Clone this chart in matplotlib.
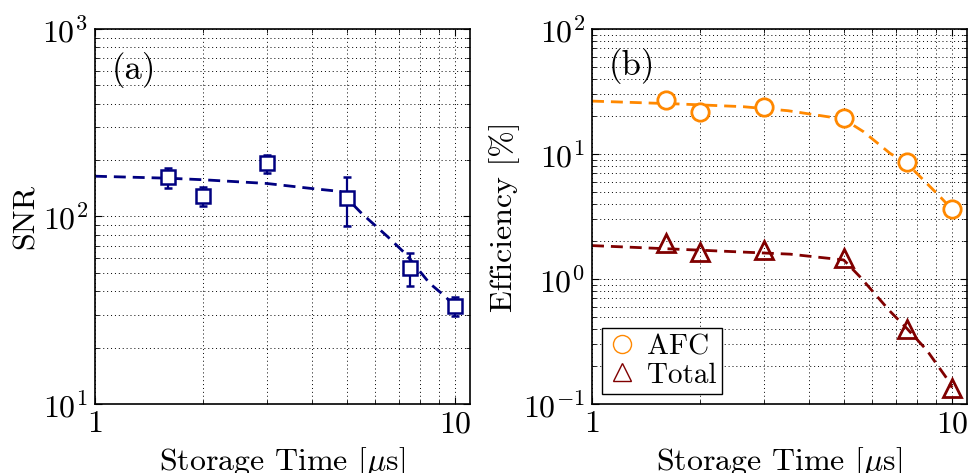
import matplotlib
matplotlib.use('Agg')
import matplotlib.pyplot as plt
from matplotlib.lines import Line2D

plt.rcParams['font.family'] = ['cmr10', 'DejaVu Serif']
plt.rcParams['mathtext.fontset'] = 'cm'
plt.rcParams['axes.formatter.use_mathtext'] = True
plt.rcParams['axes.unicode_minus'] = False

# storage times [us]
times = [1.6, 2.0, 3.0, 5.0, 7.5, 10.0]

# (a) SNR with asymmetric error bars
snr = [162, 128, 193, 125, 53, 33.5]
snr_hi = [181, 144, 213, 162, 64, 37]
snr_lo = [142, 114, 171, 89, 42.5, 29.5]

# (a) fit curve
snr_fit_t = [1, 1.6, 2, 3, 4, 4.8, 5.5, 6.5, 7.3, 8.5, 9.4, 10]
snr_fit = [164, 160, 157, 150, 141, 136, 104, 78, 63, 44, 37.4, 33]

# (b) efficiencies [%]
eff_afc = [27.0, 21.7, 23.8, 19.4, 8.6, 3.6]
eff_total = [1.95, 1.64, 1.70, 1.46, 0.40, 0.134]

afc_fit_t = [1, 1.76, 2.63, 3.5, 5, 5.67, 6.73, 7.5, 7.81, 9.26, 10]
afc_fit = [26.5, 25.1, 23.9, 22.2, 19.0, 15.1, 10.1, 8.4, 7.45, 4.55, 3.6]

total_fit_t = [1, 2, 3.55, 5, 5.55, 6.73, 7.5, 8.5, 9.67, 10]
total_fit = [1.85, 1.70, 1.58, 1.42, 1.04, 0.55, 0.40, 0.27, 0.16, 0.135]

navy = '#000080'
orange = '#FF8800'
darkred = '#800000'

fig = plt.figure(figsize=(9.68, 4.73), dpi=100)
ax1 = fig.add_axes([0.0981, 0.1459, 0.3874, 0.7928])
ax2 = fig.add_axes([0.6116, 0.1459, 0.3874, 0.7928])


def style_axes(ax, ylim):
    ax.set_xscale('log')
    ax.set_yscale('log')
    ax.set_xlim(1, 11)
    ax.set_ylim(*ylim)
    ax.set_xticks([1, 10])
    ax.set_xticklabels(['1', '10'])
    ax.grid(True, which='both', color='black', linestyle=(0, (1, 3)), linewidth=0.7)
    ax.tick_params(which='both', direction='in', top=True, right=True, labelsize=23)
    ax.tick_params(which='major', length=5, width=0.8, pad=5)
    ax.tick_params(which='minor', length=3, width=0.6)
    for s in ax.spines.values():
        s.set_linewidth(1.2)
    ax.set_xlabel(r'Storage Time [$\mu$s]', fontsize=23, labelpad=5)
    ax.set_axisbelow(True)


# panel (a)
style_axes(ax1, (10, 1000))
ax1.plot(snr_fit_t, snr_fit, color=navy, lw=2, dashes=(4.3, 2.5))
yerr = [[v - lo for v, lo in zip(snr, snr_lo)], [hi - v for v, hi in zip(snr, snr_hi)]]
ax1.errorbar(times, snr, yerr=yerr, fmt='s', ms=9.5, mfc='white', mec=navy, mew=1.8,
             ecolor=navy, elinewidth=1.6, capsize=2.8, capthick=1.6)
ax1.set_ylabel('SNR', fontsize=23, labelpad=2)
ax1.text(0.045, 0.89, '(a)', transform=ax1.transAxes, fontsize=25, va='center')

# panel (b)
style_axes(ax2, (0.1, 100))
ax2.plot(afc_fit_t, afc_fit, color=orange, lw=2, dashes=(4.3, 2.5))
ax2.plot(total_fit_t, total_fit, color=darkred, lw=2, dashes=(4.3, 2.5))
ax2.plot(times, eff_afc, 'o', ms=12.5, mfc='white', mec=orange, mew=2)
ax2.plot(times, eff_total, '^', ms=13, mfc='none', mec=darkred, mew=2)
ax2.set_ylabel('Efficiency [%]', fontsize=23, labelpad=2)
ax2.text(0.043, 0.9, '(b)', transform=ax2.transAxes, fontsize=25, va='center')

handles = [Line2D([], [], ls='none', marker='o', ms=13, mfc='none', mec=orange, mew=1.0),
           Line2D([], [], ls='none', marker='^', ms=13, mfc='none', mec=darkred, mew=1.0)]
leg = ax2.legend(handles, ['AFC', 'Total'], loc='lower left', fontsize=21,
                 bbox_to_anchor=(0.01, 0.01), fancybox=False, edgecolor='black',
                 framealpha=1, handlelength=1.0, handletextpad=0.35,
                 borderpad=0.2, labelspacing=0.05, borderaxespad=0.2)
leg.get_frame().set_linewidth(1.0)

fig.savefig('out.png', dpi=100)
